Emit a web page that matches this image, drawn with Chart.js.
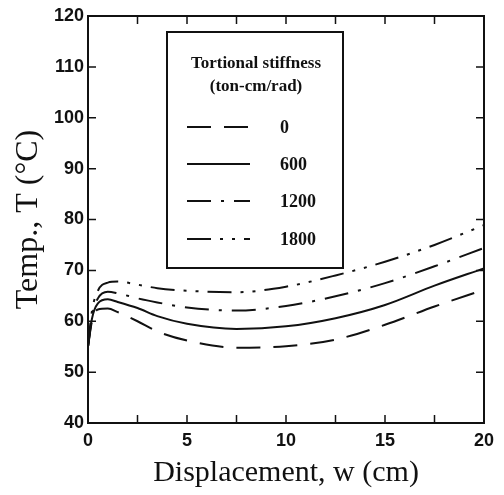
<!DOCTYPE html>
<html>
<head>
<meta charset="utf-8">
<script src="https://cdn.jsdelivr.net/npm/chart.js@4/dist/chart.umd.min.js"></script>
<style>
  html, body { margin: 0; padding: 0; background: #fff; }
  #wrap { width: 504px; height: 495px; }
</style>
</head>
<body>
<div id="wrap"><canvas id="grafico"></canvas></div>
<script>
// valores
const deslocamento = [0, 0.2, 0.5, 1, 1.5, 2.5, 3.5, 5, 7.5, 10, 12.5, 15, 17.5, 20];
const rigidez = ['0', '600', '1200', '1800'];

const temp0    = [55, 60.0, 62.3, 62.5, 61.8, 60.0, 58.0, 56.2, 54.8, 55.1, 56.4, 59.3, 62.9, 66.2];
const temp600  = [55, 60.5, 63.5, 64.3, 63.8, 62.6, 61.0, 59.5, 58.5, 59.0, 60.6, 63.2, 67.0, 70.4];
const temp1200 = [55, 61.0, 64.5, 65.8, 65.5, 64.5, 63.7, 62.7, 62.1, 63.0, 64.9, 67.5, 70.8, 74.4];
const temp1800 = [55, 62.0, 66.0, 67.6, 67.8, 67.2, 66.5, 66.0, 65.7, 66.8, 69.0, 71.7, 75.0, 78.9];

const yTicks = [40, 50, 60, 70, 80, 90, 100, 110, 120];
const xTicks = [0, 5, 10, 15, 20];

const tracos = [
  [24, 13],
  [],
  [24, 10, 3, 10],
  [24, 9, 3, 9, 3, 9]
];

function pontos(ys) {
  return deslocamento.map((x, i) => ({ x: x, y: ys[i] }));
}

const series = [temp0, temp600, temp1200, temp1800];

const dataTemp = {
  datasets: series.map((s, i) => ({
    label: rigidez[i],
    data: pontos(s),
    borderColor: '#111',
    borderWidth: 2,
    borderDash: tracos[i],
    pointRadius: 0,
    fill: false,
    cubicInterpolationMode: 'monotone'
  }))
};

// moldura, ticks para dentro e legenda em caixa
const molduraPlugin = {
  id: 'moldura',
  afterDraw(chart) {
    const ctx = chart.ctx;
    const a = chart.chartArea;
    const xs = chart.scales.x;
    const ys = chart.scales.y;
    ctx.save();
    ctx.strokeStyle = '#111';
    ctx.lineWidth = 2;
    ctx.strokeRect(a.left, a.top, a.right - a.left, a.bottom - a.top);
    ctx.lineWidth = 1.5;
    ctx.beginPath();
    for (let v = 2.5; v < 20; v += 2.5) {
      const px = xs.getPixelForValue(v);
      ctx.moveTo(px, a.bottom); ctx.lineTo(px, a.bottom - 8);
      ctx.moveTo(px, a.top); ctx.lineTo(px, a.top + 8);
    }
    yTicks.forEach(v => {
      const py = ys.getPixelForValue(v);
      ctx.moveTo(a.left, py); ctx.lineTo(a.left + 8, py);
      ctx.moveTo(a.right, py); ctx.lineTo(a.right - 8, py);
    });
    ctx.stroke();

    // legenda
    const bx = 167, by = 32, bw = 176, bh = 236;
    ctx.fillStyle = '#fff';
    ctx.fillRect(bx, by, bw, bh);
    ctx.lineWidth = 2;
    ctx.strokeRect(bx, by, bw, bh);
    ctx.fillStyle = '#111';
    ctx.font = 'bold 17px "Liberation Serif"';
    ctx.textAlign = 'center';
    ctx.textBaseline = 'middle';
    ctx.fillText('Tortional stiffness', bx + bw / 2 + 1, 64);
    ctx.fillText('(ton-cm/rad)', bx + bw / 2 + 1, 87);
    ctx.textAlign = 'left';
    ctx.font = 'bold 18px "Liberation Serif"';
    const linhas = [127, 164, 201, 239];
    chart.data.datasets.forEach((ds, i) => {
      const ly = linhas[i];
      ctx.setLineDash(ds.borderDash);
      ctx.lineWidth = 2;
      ctx.beginPath();
      ctx.moveTo(187, ly);
      ctx.lineTo(250, ly);
      ctx.stroke();
      ctx.setLineDash([]);
      ctx.fillText(ds.label, 280, ly + 1);
    });
    ctx.restore();
  }
};

const configTemp = {
  type: 'line',
  data: dataTemp,
  options: {
    responsive: true,
    maintainAspectRatio: false,
    animation: false,
    layout: { padding: { left: 9, top: 16, right: 20, bottom: 0 } },
    plugins: {
      legend: { display: false },
      tooltip: { enabled: false }
    },
    scales: {
      x: {
        type: 'linear',
        min: 0,
        max: 20,
        grid: { display: false, drawTicks: false },
        border: { display: false },
        afterBuildTicks(scale) {
          scale.ticks = xTicks.map(v => ({ value: v }));
        },
        ticks: {
          color: '#111',
          font: { family: '"Liberation Sans"', size: 18, weight: 'bold' },
          padding: 7,
          maxRotation: 0
        },
        title: {
          display: true,
          text: 'Displacement, w (cm)',
          color: '#111',
          font: { family: '"Liberation Serif"', size: 30 },
          padding: { top: 4, bottom: 4 }
        },
        afterFit(scale) { scale.height = 72; }
      },
      y: {
        min: 40,
        max: 120,
        grid: { display: false, drawTicks: false },
        border: { display: false },
        afterBuildTicks(scale) {
          scale.ticks = yTicks.map(v => ({ value: v }));
        },
        ticks: {
          color: '#111',
          font: { family: '"Liberation Sans"', size: 18, weight: 'bold' },
          padding: 4
        },
        title: {
          display: true,
          text: 'Temp., T (°C)',
          color: '#111',
          font: { family: '"Liberation Serif"', size: 32 },
          padding: { top: 0, bottom: 4 }
        },
        afterFit(scale) { scale.width = 79; }
      }
    }
  },
  plugins: [molduraPlugin]
};

const grafico = new Chart(document.getElementById('grafico'), configTemp);
</script>
</body>
</html>
